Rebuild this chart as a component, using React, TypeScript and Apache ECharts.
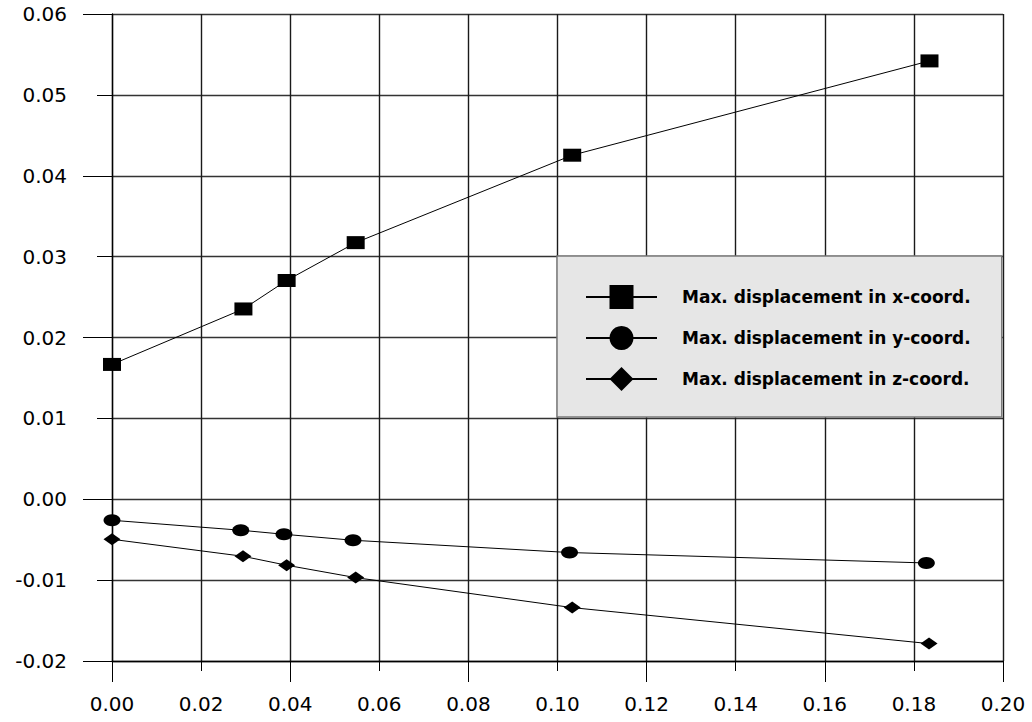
import React, { useEffect, useRef } from "react";
import * as echarts from "echarts";

const seriesNames = [
  "Max. displacement in x-coord.",
  "Max. displacement in y-coord.",
  "Max. displacement in z-coord.",
];

const xCoordX = [0, 0.0295, 0.0392, 0.0547, 0.1033, 0.1835];
const xCoordY = [0.01667, 0.02353, 0.02705, 0.03173, 0.04254, 0.0542];

const yCoordX = [0, 0.0289, 0.0386, 0.0541, 0.1027, 0.1828];
const yCoordY = [-0.0026, -0.00383, -0.00433, -0.00507, -0.00659, -0.00788];

const zCoordX = [0, 0.0294, 0.0392, 0.0547, 0.1033, 0.1834];
const zCoordY = [-0.00495, -0.00705, -0.00816, -0.00969, -0.0134, -0.01785];

const xMin = 0;
const xMax = 0.2;
const yMin = -0.02;
const yMax = 0.06;

const fmt = (v: number) => (Math.abs(v) < 1e-9 ? "0.00" : v.toFixed(2));

const pairs = (xs: number[], ys: number[]) => xs.map((x, i) => [x, ys[i]]);

export default function App() {
  const ref = useRef<HTMLDivElement>(null);

  useEffect(() => {
    if (!ref.current) return;
    const chart = echarts.init(ref.current, undefined, { renderer: "svg" });
    const labelFont = {
      fontFamily: "DejaVu Sans",
      fontSize: 20,
      color: "#000",
    };
    const lineBase = {
      type: "line" as const,
      xAxisIndex: 0,
      yAxisIndex: 0,
      lineStyle: { color: "#000", width: 1 },
      itemStyle: { color: "#000" },
      emphasis: { disabled: true },
    };
    chart.setOption({
      animation: false,
      backgroundColor: "#fff",
      grid: { left: 112, right: 29, top: 14, bottom: 61, containLabel: false },
      legend: {
        orient: "vertical",
        left: 557,
        top: 256,
        padding: [29, 31, 26, 28],
        itemWidth: 71,
        itemHeight: 30,
        itemGap: 17,
        backgroundColor: "#e6e6e6",
        borderColor: "#7a7a7a",
        borderWidth: 1.5,
        borderRadius: 0,
        selectedMode: false,
        data: seriesNames,
        textStyle: {
          fontFamily: "DejaVu Sans",
          fontWeight: "bold",
          fontSize: 17,
          color: "#000",
          padding: [0, 0, 0, 20],
        },
      },
      xAxis: [
        {
          type: "value",
          min: xMin,
          max: xMax,
          interval: 0.02,
          position: "bottom",
          axisLine: { show: true, onZero: false, lineStyle: { color: "#000", width: 1.3 } },
          axisTick: { show: true, inside: false, length: 10, lineStyle: { color: "#000", width: 1 } },
          axisLabel: { ...labelFont, margin: 33, formatter: fmt },
          splitLine: { show: true, lineStyle: { color: "#1a1a1a", width: 1.4 } },
        },
        {
          type: "value",
          min: xMin,
          max: xMax,
          interval: 0.04,
          position: "bottom",
          offset: 0,
          axisLine: { show: false, onZero: false },
          axisTick: { show: true, length: 21, lineStyle: { color: "#000", width: 1 } },
          axisLabel: { show: false },
          splitLine: { show: false },
        },
      ],
      yAxis: [
        {
          type: "value",
          min: yMin,
          max: yMax,
          interval: 0.01,
          position: "left",
          axisLine: { show: true, onZero: false, lineStyle: { color: "#000", width: 1.3 } },
          axisTick: { show: true, length: 15, lineStyle: { color: "#000", width: 1 } },
          axisLabel: { ...labelFont, margin: 45, formatter: fmt },
          splitLine: { show: true, lineStyle: { color: "#333", width: 1.4 } },
        },
        {
          type: "value",
          min: yMin,
          max: yMax,
          interval: 0.02,
          position: "left",
          offset: 0,
          axisLine: { show: false, onZero: false },
          axisTick: { show: true, length: 29, lineStyle: { color: "#000", width: 1 } },
          axisLabel: { show: false },
          splitLine: { show: false },
        },
      ],
      series: [
        {
          ...lineBase,
          name: seriesNames[0],
          symbol: "rect",
          symbolSize: [18, 13],
          data: pairs(xCoordX, xCoordY),
        },
        {
          ...lineBase,
          name: seriesNames[1],
          symbol: "circle",
          symbolSize: [17, 12],
          data: pairs(yCoordX, yCoordY),
        },
        {
          ...lineBase,
          name: seriesNames[2],
          symbol: "diamond",
          symbolSize: [17, 12],
          data: pairs(zCoordX, zCoordY),
        },
      ],
    });
    return () => chart.dispose();
  }, []);

  return (
    <div
      ref={ref}
      style={{ position: "fixed", left: 0, top: 0, width: 1032, height: 722, background: "#fff" }}
    />
  );
}
